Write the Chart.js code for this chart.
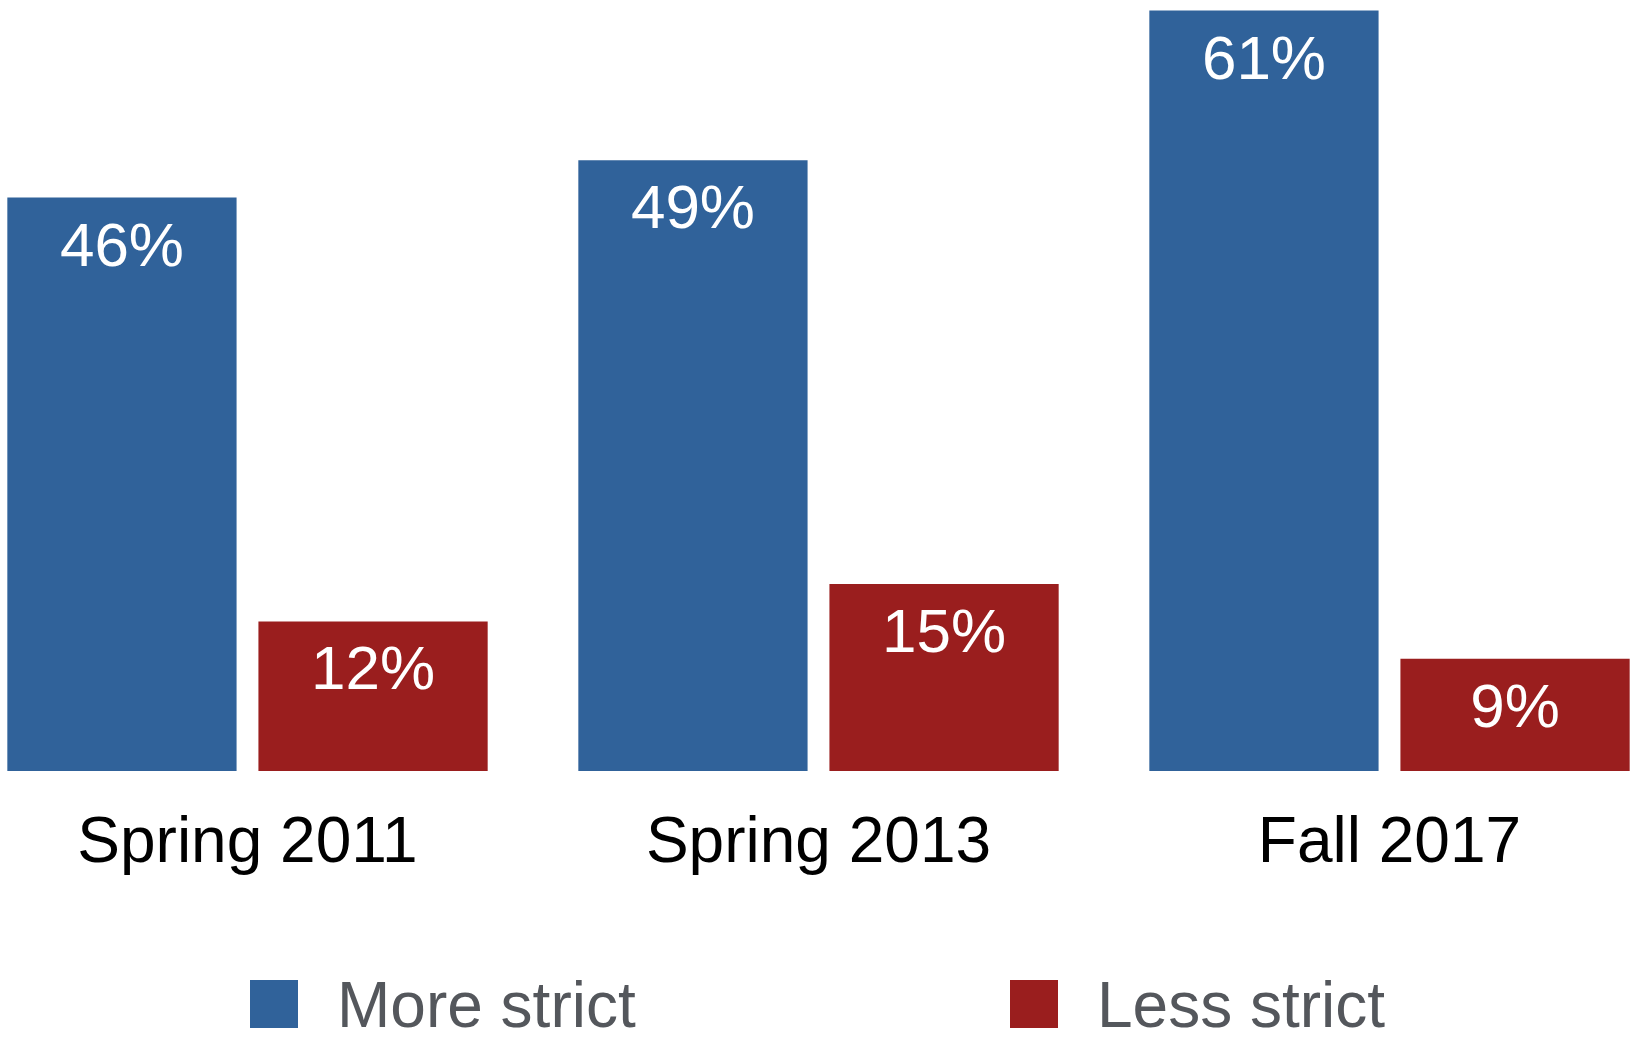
<!DOCTYPE html>
<html>
<head>
<meta charset="utf-8">
<script src="https://cdn.jsdelivr.net/npm/chart.js@4/dist/chart.umd.min.js"></script>
<style>
    html, body { margin: 0; padding: 0; background: #fff; overflow: hidden; }
    body { width: 1634px; height: 1037px; position: relative; font-family: "Liberation Sans", Arial, sans-serif; }
    #wrap { position: absolute; left: -38px; top: 0; width: 1713px; height: 900px; }
    #legend { position: absolute; left: 0; top: 980px; width: 1634px; height: 57px; }
    .item { position: absolute; top: 0; height: 48px; }
    .swatch { position: absolute; left: 0; top: 0; width: 48px; height: 48px; }
    .text { position: absolute; left: 87px; top: -12px; font-size: 64px; line-height: 74px; color: #54575c; white-space: nowrap; }
</style>
</head>
<body>
<div id="wrap"><canvas id="PolicyChart"></canvas></div>
<div id="legend"></div>

<script>
const categories = ["Spring 2011", "Spring 2013", "Fall 2017"];
const seriesNames = ["More strict", "Less strict"];
const moreStrict = [46, 49, 61];
const lessStrict = [12, 15, 9];
const seriesColors = ["#30629a", "#9a1e1e"];
const legendLeft = [250, 1010];

let policyChart;

document.addEventListener("DOMContentLoaded", () => {
    drawChart();
    buildLegend();
});


// ---------------- Value labels inside bars ----------------
const barLabels = {
    id: "barLabels",
    afterDatasetsDraw(chart) {
        const ctx = chart.ctx;
        ctx.save();
        ctx.fillStyle = "#ffffff";
        ctx.font = "62px 'Liberation Sans', Arial, sans-serif";
        ctx.textAlign = "center";
        ctx.textBaseline = "alphabetic";
        chart.data.datasets.forEach((ds, i) => {
            chart.getDatasetMeta(i).data.forEach((bar, j) => {
                ctx.fillText(ds.data[j] + "%", bar.x, bar.y + 68);
            });
        });
        ctx.restore();
    }
};


// ---------------- Chart ----------------
function drawChart() {

    const ctx = document.getElementById("PolicyChart").getContext("2d");

    policyChart = new Chart(ctx, {
        type: "bar",
        data: {
            labels: categories,
            datasets: [
                { label: seriesNames[0], data: moreStrict, backgroundColor: seriesColors[0] },
                { label: seriesNames[1], data: lessStrict, backgroundColor: seriesColors[1] }
            ]
        },
        options: {
            responsive: true,
            maintainAspectRatio: false,
            animation: false,
            categoryPercentage: 0.8795,
            barPercentage: 0.913,
            layout: { padding: 0 },
            scales: {
                x: {
                    grid: { display: false, drawTicks: false },
                    border: { display: false },
                    ticks: {
                        color: "#000000",
                        padding: 35,
                        font: { family: "'Liberation Sans', Arial, sans-serif", size: 64 }
                    },
                    afterFit: s => { s.height = 129; }
                },
                y: {
                    display: false,
                    min: 0,
                    max: 61.85
                }
            },
            plugins: {
                legend: { display: false },
                tooltip: { enabled: false }
            }
        },
        plugins: [barLabels]
    });
}


// ---------------- Legend ----------------
function buildLegend() {
    const legend = document.getElementById("legend");
    policyChart.data.datasets.forEach((ds, i) => {
        const item = document.createElement("div");
        item.className = "item";
        item.style.left = legendLeft[i] + "px";
        item.innerHTML = `<div class="swatch" style="background:${ds.backgroundColor}"></div><div class="text">${ds.label}</div>`;
        legend.appendChild(item);
    });
}
</script>
</body>
</html>
